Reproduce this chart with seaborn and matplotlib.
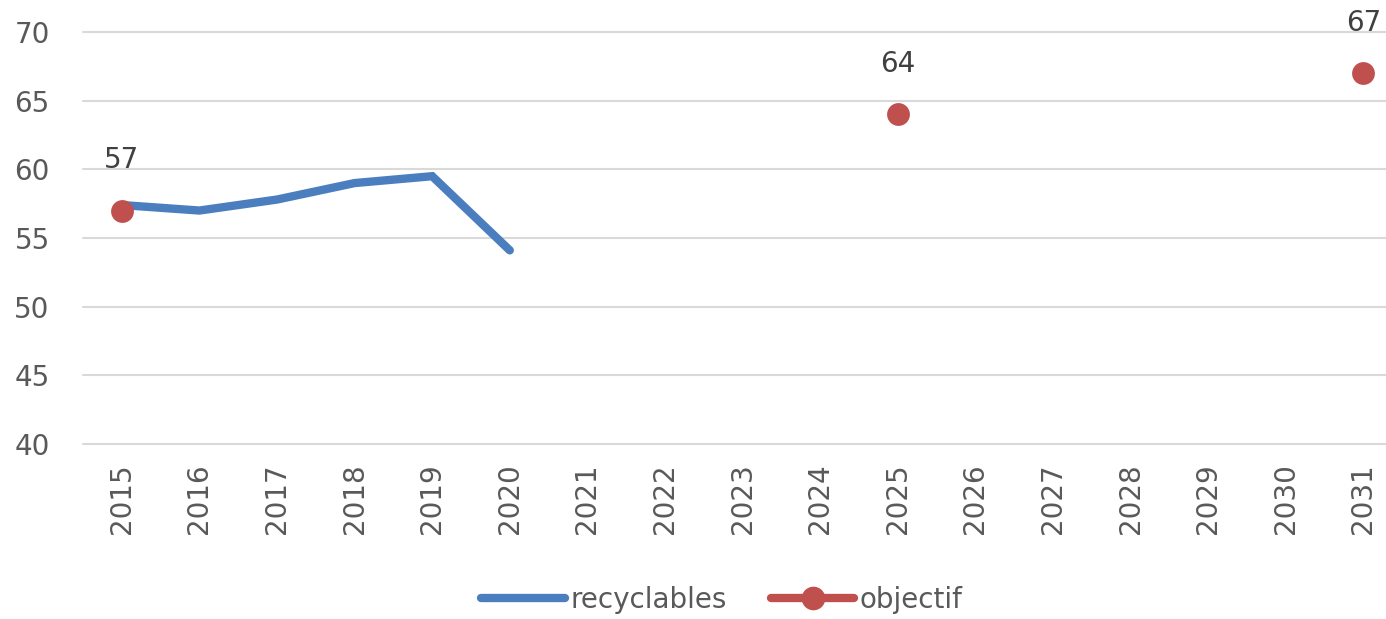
import matplotlib
matplotlib.use("Agg")
import matplotlib.pyplot as plt
from matplotlib.lines import Line2D
import seaborn as sns
import pandas as pd

years = [str(y) for y in range(2015, 2032)]
recyclables_years = ["2015", "2016", "2017", "2018", "2019", "2020"]
recyclables_values = [57.4, 57.0, 57.8, 59.0, 59.5, 54.1]
objectif_years = ["2015", "2025", "2031"]
objectif_values = [57, 64, 67]
y_ticks = [40, 45, 50, 55, 60, 65, 70]

BLUE = "#4A7EBF"
RED = "#C0504D"
GRAY = "#595959"
FS = 20

sns.set_theme(style="white")
plt.rcParams['font.family'] = ['DejaVu Sans']

fig = plt.figure(figsize=(13.86, 6.19), dpi=100)
ax = fig.add_axes([83 / 1386, 1 - 444 / 619, (1386 - 83) / 1386, (444 - 32) / 619])

pos = {y: i for i, y in enumerate(years)}
df_r = pd.DataFrame({"x": [pos[y] for y in recyclables_years], "v": recyclables_values})
df_o = pd.DataFrame({"x": [pos[y] for y in objectif_years], "v": objectif_values})

sns.lineplot(data=df_r, x="x", y="v", ax=ax, color=BLUE, linewidth=6,
             solid_capstyle="round", solid_joinstyle="miter", zorder=3)
sns.scatterplot(data=df_o, x="x", y="v", ax=ax, color=RED, s=270,
                edgecolor=RED, linewidth=0, zorder=4)

for x, v in zip(df_o["x"], df_o["v"]):
    ax.annotate(f"{v}", (x, v), xytext=(0, 26), textcoords="offset points",
                ha="center", va="bottom", fontsize=FS, color="#404040")

ax.set_ylim(40, 70)
ax.set_yticks(y_ticks)
span = (1386 - 83) / 77.6
ax.set_xlim(-0.5, span - 0.5)
ax.set_xticks(range(len(years)))
ax.set_xticklabels(years, rotation=90)
ax.set_xlabel("")
ax.set_ylabel("")
ax.grid(axis="y", color="#D9D9D9", linewidth=1.5)
ax.grid(axis="x", visible=False)
for gl in ax.get_ygridlines():
    gl.set_clip_on(False)
for s in ax.spines.values():
    s.set_visible(False)
ax.tick_params(axis="both", length=0, labelsize=FS, labelcolor=GRAY)
ax.tick_params(axis="y", pad=24)
ax.tick_params(axis="x", pad=14)

handles = [
    Line2D([0], [0], color=BLUE, lw=6, solid_capstyle="round"),
    Line2D([0], [0], color=RED, lw=6, marker="o", markersize=16, solid_capstyle="round"),
]
fig.legend(handles, ["recyclables", "objectif"], loc="center", bbox_to_anchor=(722 / 1386, 1 - 600 / 619),
           ncol=2, frameon=False, fontsize=FS, handlelength=3.0, handletextpad=0.2,
           columnspacing=1.6, labelcolor=GRAY)

fig.savefig("out.png", dpi=100)
